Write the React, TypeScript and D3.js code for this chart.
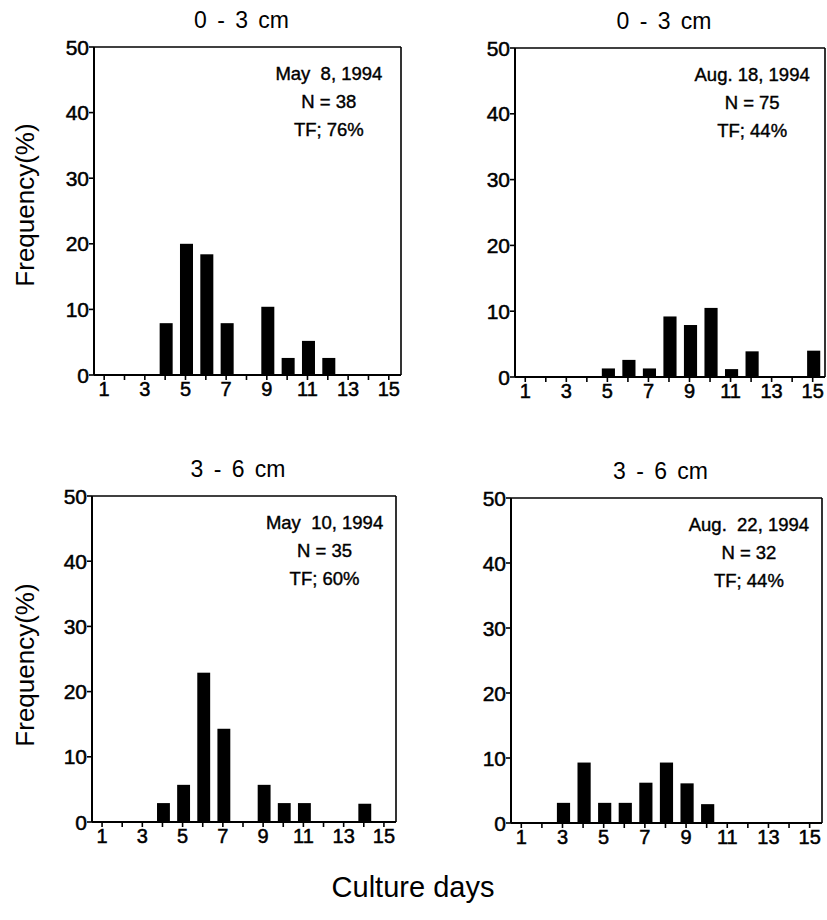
import * as d3 from "d3";

// panel titles and annotations
const titles = ["0 - 3 cm", "0 - 3 cm", "3 - 6 cm", "3 - 6 cm"];
const dates = ["May\u00a0\u00a08, 1994", "Aug. 18, 1994", "May\u00a0\u00a010, 1994", "Aug.\u00a0\u00a022, 1994"];
const counts = ["N = 38", "N = 75", "N = 35", "N = 32"];
const tfs = ["TF; 76%", "TF; 44%", "TF; 60%", "TF; 44%"];

// bars: culture day -> frequency (%)
const days1 = [4, 5, 6, 7, 9, 10, 11, 12];
const freq1 = [7.9, 20.0, 18.4, 7.9, 10.4, 2.6, 5.2, 2.6];
const days2 = [5, 6, 7, 8, 9, 10, 11, 12, 15];
const freq2 = [1.3, 2.6, 1.3, 9.2, 7.9, 10.5, 1.2, 3.9, 4.0];
const days3 = [4, 5, 6, 7, 9, 10, 11, 14];
const freq3 = [2.9, 5.7, 22.9, 14.3, 5.7, 2.9, 2.9, 2.8];
const days4 = [3, 4, 5, 6, 7, 8, 9, 10];
const freq4 = [3.1, 9.3, 3.1, 3.1, 6.2, 9.3, 6.1, 2.9];

const yTicks = [0, 10, 20, 30, 40, 50];
const xTicks = d3.range(1, 16);
const xLabels = [1, 3, 5, 7, 9, 11, 13, 15];

const FONT = "'Liberation Sans', Arial, Helvetica, sans-serif";

const panels = [
  { left: 94, top: 47, width: 307, height: 328, days: days1, freq: freq1 },
  { left: 515, top: 48, width: 310, height: 329, days: days2, freq: freq2 },
  { left: 92, top: 496, width: 304, height: 326, days: days3, freq: freq3 },
  { left: 511, top: 498, width: 311, height: 325, days: days4, freq: freq4 },
];

function Panel({ p, i }: { p: (typeof panels)[number]; i: number }) {
  const x = d3.scaleLinear().domain([0.5, 15.6]).range([0, p.width]);
  const y = d3.scaleLinear().domain([0, 50]).range([p.height, 0]);
  const step = x(2) - x(1);
  const bw = step * 0.64;
  const cx = p.width * 0.765;
  return (
    <g transform={`translate(${p.left},${p.top})`}>
      <text x={p.width / 2 - 6} y={-19} textAnchor="middle" fontSize={23} wordSpacing={4} fontFamily={FONT}>
        {titles[i]}
      </text>
      {p.days.map((d, k) => (
        <rect key={d} x={x(d) - bw / 2 + 1} y={y(p.freq[k])} width={bw} height={y(0) - y(p.freq[k])} fill="#000" />
      ))}
      <line x1={0} x2={p.width} y1={0} y2={0} stroke="#000" strokeWidth={1.6} />
      <line x1={p.width} x2={p.width} y1={0} y2={p.height} stroke="#000" strokeWidth={1.6} />
      <line x1={0} x2={p.width} y1={p.height} y2={p.height} stroke="#000" strokeWidth={2} />
      <line x1={0} x2={0} y1={0} y2={p.height} stroke="#000" strokeWidth={2} />
      {yTicks.map((t) => (
        <g key={t} transform={`translate(0,${y(t)})`}>
          <line x1={-5} x2={0} stroke="#000" strokeWidth={1.6} />
          <text x={-5} dy="0.36em" textAnchor="end" fontSize={21} fontFamily={FONT} stroke="#000" strokeWidth={0.5}>
            {t}
          </text>
        </g>
      ))}
      {xTicks.map((t) => (
        <line key={t} x1={x(t)} x2={x(t)} y1={p.height} y2={p.height + 5} stroke="#000" strokeWidth={1.6} />
      ))}
      {xLabels.map((t) => (
        <text key={t} x={x(t)} y={p.height + 21} textAnchor="middle" fontSize={20} fontFamily={FONT} stroke="#000" strokeWidth={0.5}>
          {t}
        </text>
      ))}
      <g fontSize={18.5} fontFamily={FONT} textAnchor="middle" stroke="#000" strokeWidth={0.4}>
        <text x={cx} y={33}>{dates[i]}</text>
        <text x={cx} y={61}>{counts[i]}</text>
        <text x={cx} y={89}>{tfs[i]}</text>
      </g>
    </g>
  );
}

export default function App() {
  return (
    <svg width={827} height={920} style={{ position: "absolute", left: 0, top: 0, background: "#fff" }}>
      <rect width={827} height={920} fill="#fff" />
      {panels.map((p, i) => (
        <Panel key={i} p={p} i={i} />
      ))}
      {[205, 665].map((cy) => (
        <text key={cy} transform={`translate(34,${cy}) rotate(-90)`} textAnchor="middle" fontSize={26} fontFamily={FONT}>
          Frequency(%)
        </text>
      ))}
      <text x={413} y={897} textAnchor="middle" fontSize={29} fontFamily={FONT}>
        Culture days
      </text>
    </svg>
  );
}
